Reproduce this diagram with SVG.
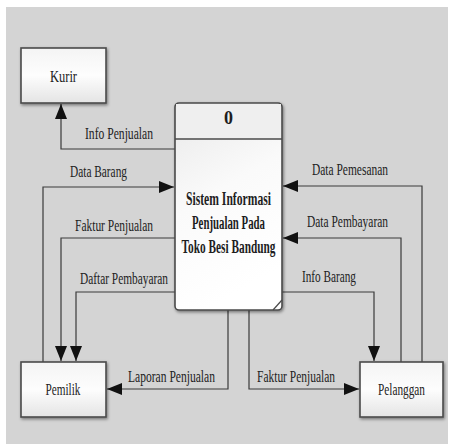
<svg xmlns="http://www.w3.org/2000/svg" width="453" height="444" viewBox="0 0 453 444">
<style>
.box{stroke:#4a4a4a;stroke-width:1.6;fill:url(#g1);filter:url(#sh)}
.conn{fill:none;stroke:#3a3a3a;stroke-width:1.2;marker-end:url(#arr)}
.lbl{font-family:"Liberation Serif",serif;font-size:17px;fill:#222}
.ent{font-family:"Liberation Serif",serif;font-size:17px;fill:#222;text-anchor:middle}
.proc{font-family:"Liberation Serif",serif;font-size:18px;font-weight:bold;fill:#1e1e1e;text-anchor:middle}
</style>
<defs>
<linearGradient id="g1" x1="0" y1="0" x2="0" y2="1">
<stop offset="0" stop-color="#f4f4f4"/>
<stop offset="0.5" stop-color="#fdfdfd"/>
<stop offset="1" stop-color="#e4e4e4"/>
</linearGradient>
<linearGradient id="g2" x1="0" y1="0" x2="0.3" y2="1">
<stop offset="0" stop-color="#e9e9e9"/>
<stop offset="0.5" stop-color="#fafafa"/>
<stop offset="1" stop-color="#ffffff"/>
</linearGradient>
<filter id="sh" x="-20%" y="-20%" width="140%" height="140%">
<feDropShadow dx="1" dy="1.5" stdDeviation="1.5" flood-color="#000" flood-opacity="0.45"/>
</filter>
<marker id="arr" viewBox="0 0 15 12" refX="15" refY="6" markerWidth="15" markerHeight="12" orient="auto" markerUnits="userSpaceOnUse">
<path d="M0,0 L15,6 L0,12 z" fill="#111"/>
</marker>
</defs>
<rect x="0" y="0" width="453" height="444" fill="#ffffff"/>
<rect x="6" y="7" width="442" height="437" fill="#d4d4d4"/>

<g id="connectors">
<path class="conn" d="M175,149 H61 V104"/>
<path class="conn" d="M43,362 V187 H174"/>
<path class="conn" d="M175,238 H61 V361"/>
<path class="conn" d="M175,292 H76 V361"/>
<path class="conn" d="M228,310 V389 H107"/>
<path class="conn" d="M249,310 V389 H359"/>
<path class="conn" d="M282,292 H374 V361"/>
<path class="conn" d="M401,362 V238 H283"/>
<path class="conn" d="M422,362 V186 H283"/>
<text class="lbl" x="85" y="139" textLength="68" lengthAdjust="spacingAndGlyphs">Info Penjualan</text>
<text class="lbl" x="70" y="177" textLength="57" lengthAdjust="spacingAndGlyphs">Data Barang</text>
<text class="lbl" x="75" y="231" textLength="78" lengthAdjust="spacingAndGlyphs">Faktur Penjualan</text>
<text class="lbl" x="80" y="284" textLength="88" lengthAdjust="spacingAndGlyphs">Daftar Pembayaran</text>
<text class="lbl" x="128" y="382" textLength="87" lengthAdjust="spacingAndGlyphs">Laporan Penjualan</text>
<text class="lbl" x="257" y="382" textLength="78" lengthAdjust="spacingAndGlyphs">Faktur Penjualan</text>
<text class="lbl" x="302" y="282" textLength="54" lengthAdjust="spacingAndGlyphs">Info Barang</text>
<text class="lbl" x="307" y="227" textLength="81" lengthAdjust="spacingAndGlyphs">Data Pembayaran</text>
<text class="lbl" x="312" y="175" textLength="76" lengthAdjust="spacingAndGlyphs">Data Pemesanan</text>
</g>

<g id="kurir">
<rect class="box" x="21" y="48" width="85" height="55"/>
<text class="ent" x="63.5" y="82" textLength="27" lengthAdjust="spacingAndGlyphs">Kurir</text>
</g>

<g id="pemilik">
<rect class="box" x="21" y="362" width="85" height="55"/>
<text class="ent" x="63" y="395" textLength="35" lengthAdjust="spacingAndGlyphs">Pemilik</text>
</g>

<g id="pelanggan">
<rect class="box" x="360" y="362" width="83" height="55"/>
<text class="ent" x="401.5" y="395" textLength="47" lengthAdjust="spacingAndGlyphs">Pelanggan</text>
</g>

<g id="proses-0">
<rect x="175" y="103" width="107" height="207" rx="4" fill="url(#g2)" stroke="#4a4a4a" stroke-width="1.6" filter="url(#sh)"/>
<path d="M176,104 H281 V139 H176 Z" fill="#efefef" stroke="none"/>
<line x1="175" y1="139" x2="282" y2="139" stroke="#4a4a4a" stroke-width="1.6"/>
<path d="M273,310 L282,300" fill="none" stroke="#4a4a4a" stroke-width="1.2"/>
<text class="proc" x="228.5" y="124" font-size="14">0</text>
<text class="proc" x="228.5" y="205" textLength="85" lengthAdjust="spacingAndGlyphs">Sistem Informasi</text>
<text class="proc" x="228.5" y="229" textLength="73" lengthAdjust="spacingAndGlyphs">Penjualan Pada</text>
<text class="proc" x="228.5" y="253" textLength="94" lengthAdjust="spacingAndGlyphs">Toko Besi Bandung</text>
</g>
</svg>
